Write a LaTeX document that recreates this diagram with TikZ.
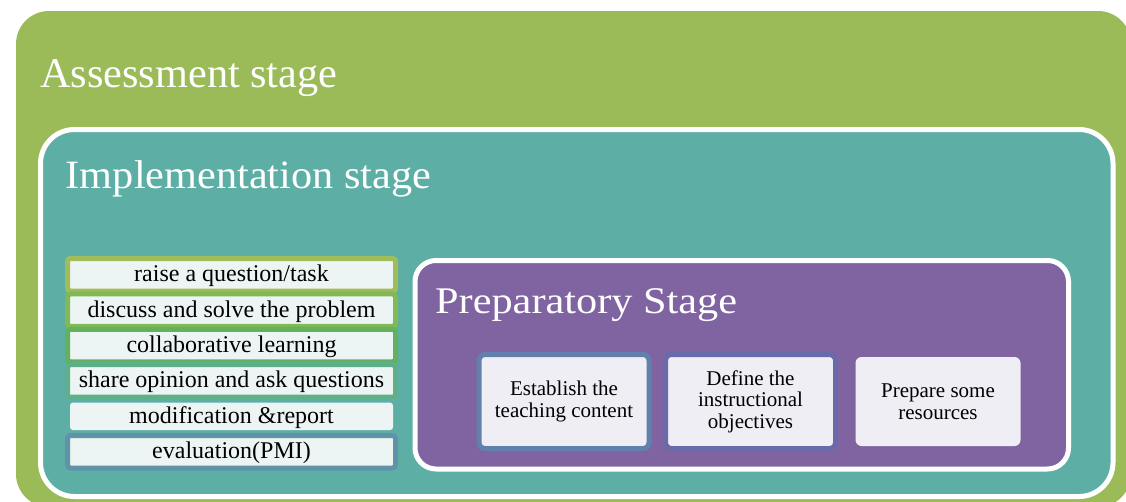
\documentclass[tikz,border=0pt]{standalone}
\usepackage{fontspec}
\setmainfont{Liberation Serif}
\definecolor{assessgreen}{RGB}{155,187,89}
\definecolor{implteal}{RGB}{93,175,166}
\definecolor{preppurple}{RGB}{128,100,162}
\definecolor{itemfill}{RGB}{237,245,244}
\definecolor{taskfill}{RGB}{240,238,245}
\definecolor{itemA}{RGB}{160,189,90}
\definecolor{itemB}{RGB}{128,185,85}
\definecolor{itemC}{RGB}{99,177,95}
\definecolor{itemD}{RGB}{95,175,139}
\definecolor{itemF}{RGB}{96,147,170}
\definecolor{taskA}{RGB}{97,128,174}
\definecolor{taskB}{RGB}{106,105,169}
\begin{document}
\begin{tikzpicture}[x=1pt,y=-1pt,
  stagebox/.style={draw=white, line width=5pt, outer sep=0pt, inner sep=0pt, anchor=north west},
  heading/.style={text=white, font=\fontsize{42.3}{50}\selectfont, inner sep=0pt, anchor=base west},
  listitem/.style={fill=itemfill, line width=5pt, rounded corners=3pt,
    minimum width=328pt, minimum height=32.5pt, inner sep=0pt, outer sep=0pt,
    text height=16pt, text depth=2pt, font=\fontsize{24}{28}\selectfont},
  plainitem/.style={listitem, draw=none, minimum width=323pt, minimum height=27.5pt},
  taskbox/.style={fill=taskfill, line width=5pt, rounded corners=6pt,
    minimum width=170pt, minimum height=94pt, inner sep=0pt, outer sep=0pt,
    align=center, font=\fontsize{21}{21.5}\selectfont},
  plaintask/.style={taskbox, draw=none, minimum width=165pt, minimum height=89pt}
]
\useasboundingbox (0,0) rectangle (1126,501);
\clip (0,0) rectangle (1126,501);

% nested stages
\node[fill=assessgreen, rounded corners=33pt, minimum width=1115pt, minimum height=496pt,
      inner sep=0pt, outer sep=0pt, anchor=north west] (assess) at (16,11) {};
\node[stagebox, fill=implteal, rounded corners=34pt, minimum width=1072.5pt, minimum height=367pt]
      (impl) at (40.5,129.5) {};
\node[stagebox, fill=preppurple, rounded corners=21pt, minimum width=653.5pt, minimum height=208.5pt]
      (prep) at (415,260.5) {};

% stage titles
\node[heading] (assesstitle) at (40,87.7) {Assessment stage};
\node[heading] (impltitle) at (65.7,188.3) {\scalebox{1}[0.95]{Implementation stage}};
\node[heading] (preptitle) at (435,313) {\scalebox{1}[0.89]{Preparatory Stage}};

% implementation steps
\node[listitem, draw=itemA] (step1) at (231.5,274.75) {raise a question/task};
\node[listitem, draw=itemB] (step2) at (231.5,310.15) {discuss and solve the problem};
\node[listitem, draw=itemC] (step3) at (231.5,345.55) {collaborative learning};
\node[listitem, draw=itemD] (step4) at (231.5,380.95) {share opinion and ask questions};
\node[plainitem] (step5) at (231.5,416.35) {modification \&report};
\node[listitem, draw=itemF] (step6) at (231.5,451.75) {evaluation(PMI)};

% preparatory tasks
\node[taskbox, draw=taskA] (task1) at (564,401.5) {Establish the\\teaching content};
\node[taskbox, draw=taskB] (task2) at (750.5,401.5) {Define the\\instructional\\objectives};
\node[plaintask] (task3) at (938,401.5) {Prepare some\\resources};
\end{tikzpicture}
\end{document}
